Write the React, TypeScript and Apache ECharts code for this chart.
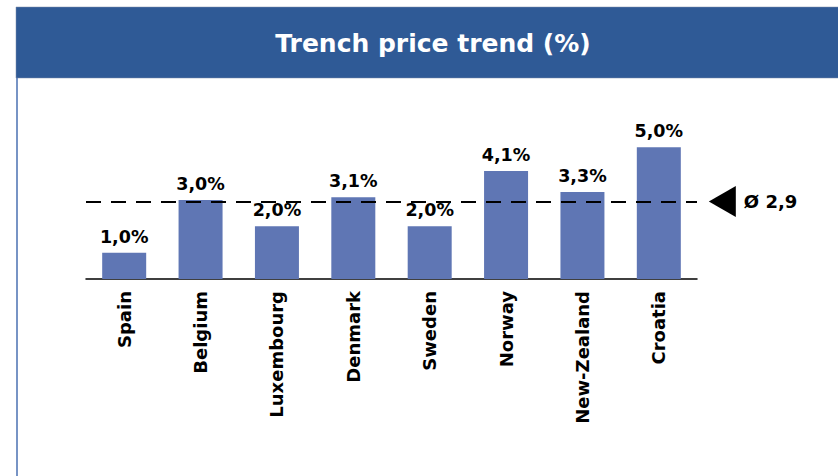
import React, { useEffect, useRef } from "react";
import * as echarts from "echarts";

const TITLE = "Trench price trend (%)";
const categories = ["Spain", "Belgium", "Luxembourg", "Denmark", "Sweden", "Norway", "New-Zealand", "Croatia"];
const values = [1.0, 3.0, 2.0, 3.1, 2.0, 4.1, 3.3, 5.0];
const AVERAGE = 2.94;
const AVERAGE_LABEL = "Ø 2,9";

const FONT = "DejaVu Sans";
const HEADER_BLUE = "#2F5A96";
const BAR_BLUE = "#5F76B4";

export default function App() {
  const ref = useRef<HTMLDivElement>(null);
  useEffect(() => {
    if (!ref.current) return;
    const chart = echarts.init(ref.current, undefined, { renderer: "svg" });
    const fmt = (v: number) => v.toFixed(1).replace(".", ",") + "%";
    chart.setOption({
      animation: false,
      backgroundColor: "#ffffff",
      grid: { left: 86, right: 141, top: 121, bottom: 197, containLabel: false },
      xAxis: {
        type: "category",
        data: categories,
        axisLine: { show: true, lineStyle: { color: "#000", width: 1.5 } },
        axisTick: { show: false },
        axisLabel: {
          rotate: 90,
          margin: 12,
          interval: 0,
          color: "#000",
          fontFamily: FONT,
          fontWeight: "bold",
          fontSize: 18,
        },
      },
      yAxis: { type: "value", min: 0, max: 6, show: false, splitLine: { show: false } },
      series: [
        {
          type: "bar",
          data: values,
          barWidth: 44,
          itemStyle: { color: BAR_BLUE },
          label: {
            show: true,
            position: "top",
            distance: 7,
            color: "#000",
            fontFamily: FONT,
            fontWeight: "bold",
            fontSize: 17.5,
            formatter: (p: any) => fmt(p.value),
          },
          markLine: {
            silent: true,
            symbol: ["none", "none"],
            label: { show: false },
            lineStyle: { color: "#000", width: 2, type: [15, 10] },
            data: [{ yAxis: AVERAGE }],
          },
        },
      ],
    });
    const y = chart.convertToPixel({ yAxisIndex: 0 }, AVERAGE) as number;
    const xEnd = chart.convertToPixel({ xAxisIndex: 0 }, categories[categories.length - 1]) as number;
    const tipX = xEnd + 50;
    chart.setOption({
      graphic: [
        { type: "rect", shape: { x: 16, y: 7, width: 840, height: 71 }, style: { fill: HEADER_BLUE, stroke: "#7f8fa8", lineWidth: 0.5 }, z: 10 },
        {
          type: "text",
          x: 433,
          y: 43,
          style: { text: TITLE, fill: "#fff", font: `bold 25px "${FONT}"`, textAlign: "center", textVerticalAlign: "middle" },
          z: 11,
        },
        { type: "line", shape: { x1: 17, y1: 78, x2: 17, y2: 476 }, style: { stroke: "#4A70B2", lineWidth: 1.5 }, z: 10 },
        {
          type: "polygon",
          shape: { points: [[tipX, y], [tipX + 27, y - 15.5], [tipX + 27, y + 15.5]] },
          style: { fill: "#000" },
          z: 10,
        },
        {
          type: "text",
          x: tipX + 35,
          y: y,
          style: { text: AVERAGE_LABEL, fill: "#000", font: `bold 18px "${FONT}"`, textAlign: "left", textVerticalAlign: "middle" },
          z: 10,
        },
      ],
    });
    return () => chart.dispose();
  }, []);
  return <div ref={ref} style={{ position: "fixed", left: 0, top: 0, width: 838, height: 476 }} />;
}
